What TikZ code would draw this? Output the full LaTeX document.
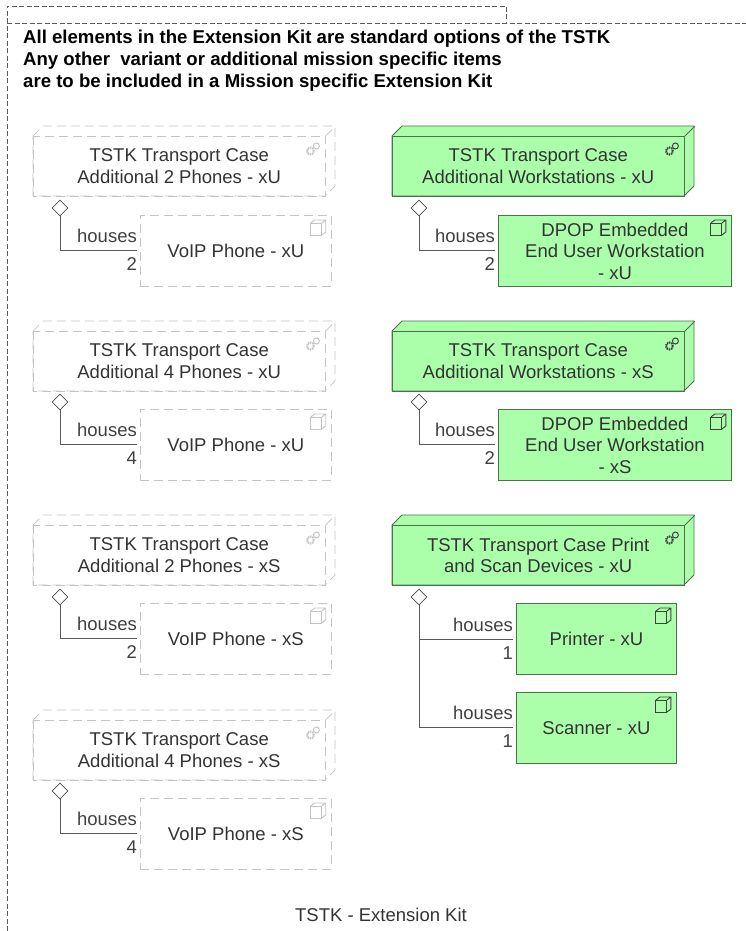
\documentclass[tikz,border=0pt]{standalone}
\usepackage{fontspec}
\setmainfont{Liberation Sans}
\usetikzlibrary{shapes.geometric,calc}
\definecolor{fillgreen}{HTML}{ABFFAB}
\definecolor{edgegreen}{HTML}{4F6F4F}
\definecolor{ghost}{HTML}{C4C4C4}
\tikzset{
  x=1pt,y=-1pt,
  framedash/.style={draw=black!65,line width=0.7pt,dash pattern=on 5pt off 2.5pt},
  ghostline/.style={draw=ghost,line width=0.7pt,dash pattern=on 9pt off 5pt},
  greenline/.style={draw=edgegreen,line width=0.9pt,fill=fillgreen},
  casebox/.style={anchor=north west,minimum width=292pt,minimum height=60pt,inner sep=0pt,align=center,font=\fontsize{18.5}{21.5}\selectfont,text=black!80},
  compbox/.style={anchor=north west,minimum height=71pt,inner sep=0pt,align=center,font=\fontsize{18.5}{21.5}\selectfont,text=black!80},
  aggdiamond/.style={diamond,draw=black!70,fill=white,line width=0.8pt,minimum width=16pt,minimum height=16pt,inner sep=0pt},
  linkline/.style={draw=black!65,line width=1pt},
  linklabel/.style={anchor=east,inner sep=0pt,font=\fontsize{18.5}{18.5}\selectfont,text=black!75},
}
% #1 name, #2 x, #3 y, #4 style, #5 icon colour, #6 text
\newcommand{\casenode}[6]{
  \path[#4] (#2,#3) -- ++(10,-10) -- ++(292,0) -- ++(0,60) -- ++(-10,10) -- ++(-292,0) -- cycle;
  \node[casebox,#4,fill=none,draw=none] (#1x) at (#2,#3) {};
  \draw[#4,fill=none] (#1x.north west) rectangle (#1x.south east);
  \draw[#4,fill=none] (#1x.north east) -- ++(10,-10);
  \node[casebox] (#1) at (#2,#3) {#6};
  \node[circle,draw=#5,line width=1pt,minimum size=6pt,inner sep=0pt] (#1g) at ($(#1.north east)+(-9,10)$) {};
  \node[circle,draw=#5,line width=2pt,dash pattern=on 1.4pt off 0.8pt,minimum size=7pt,inner sep=0pt] (#1h) at ($(#1.north east)+(-15,15)$) {};
}
% #1 name, #2 x, #3 y, #4 width, #5 style, #6 icon colour, #7 text
\newcommand{\compnode}[7]{
  \node[compbox,#5,minimum width=#4 pt] (#1) at (#2,#3) {#7};
  \draw[draw=#6,line width=0.9pt] ($(#1.north east)+(-21,8)$) rectangle ++(11,12);
  \draw[draw=#6,line width=0.9pt] ($(#1.north east)+(-21,8)$) -- ++(4,-3) -- ++(11,0) -- ++(0,12) -- ++(-4,3) ($(#1.north east)+(-10,8)$) -- ++(4,-3);
}
% #1 name of the case, #2 name of the part, #3 diamond x, #4 diamond y, #5 line y, #6 number
\newcommand{\houses}[6]{
  \node[aggdiamond] (#1d) at (#3,#4) {};
  \coordinate (#2in) at (#2.west |- 0,#5);
  \draw[linkline] (#1d.south) |- ($(#2in)+(-3,0)$);
  \node[linklabel] (#2h) at ($(#2in)+(-3,-14)$) {houses};
  \node[linklabel] (#2n) at ($(#2in)+(-3,14)$) {#6};
}
\begin{document}
\begin{tikzpicture}
\useasboundingbox (0,0) rectangle (746,931);
\fill[white] (0,0) rectangle (746,931);
\coordinate (ftl) at (7,6);
\coordinate (ftr) at (506,6);
\coordinate (fjr) at (506,23);
\coordinate (fjl) at (7,23);
\coordinate (fend) at (746,23);
\coordinate (fbot) at (7,931);
\draw[framedash] (fbot) -- (ftl) -- (ftr) -- (fjr);
\draw[framedash] (fjl) -- (fend);
\node[anchor=north west,inner sep=0pt,align=left,font=\bfseries\fontsize{18.6}{22}\selectfont,text=black] (note) at (23,30)
 {All elements in the Extension Kit are standard options of the TSTK\\
  Any other\ \ variant or additional mission specific items\\
  are to be included in a Mission specific Extension Kit};

\casenode{c1}{33}{136}{ghostline}{ghost}{TSTK Transport Case\\Additional 2 Phones - xU}
\compnode{p1}{140}{215}{191}{ghostline}{ghost}{VoIP Phone - xU}
\houses{c1}{p1}{60}{208}{250}{2}

\casenode{c2}{33}{331}{ghostline}{ghost}{TSTK Transport Case\\Additional 4 Phones - xU}
\compnode{p2}{140}{409}{191}{ghostline}{ghost}{VoIP Phone - xU}
\houses{c2}{p2}{60}{402}{444}{4}

\casenode{c3}{33}{525}{ghostline}{ghost}{TSTK Transport Case\\Additional 2 Phones - xS}
\compnode{p3}{140}{603}{191}{ghostline}{ghost}{VoIP Phone - xS}
\houses{c3}{p3}{60}{597}{638}{2}

\casenode{c4}{33}{720}{ghostline}{ghost}{TSTK Transport Case\\Additional 4 Phones - xS}
\compnode{p4}{140}{798}{191}{ghostline}{ghost}{VoIP Phone - xS}
\houses{c4}{p4}{60}{791}{833}{4}

\casenode{c5}{392}{136}{greenline}{black!75}{TSTK Transport Case\\Additional Workstations - xU}
\compnode{p5}{498}{215}{233}{greenline}{black!75}{DPOP Embedded\\End User Workstation\\- xU}
\houses{c5}{p5}{419}{208}{250}{2}

\casenode{c6}{392}{331}{greenline}{black!75}{TSTK Transport Case\\Additional Workstations - xS}
\compnode{p6}{498}{409}{233}{greenline}{black!75}{DPOP Embedded\\End User Workstation\\- xS}
\houses{c6}{p6}{419}{402}{444}{2}

\casenode{c7}{392}{525}{greenline}{black!75}{TSTK Transport Case Print\\and Scan Devices - xU}
\compnode{p7}{516}{603}{160}{greenline}{black!75}{Printer - xU}
\compnode{p8}{516}{692}{160}{greenline}{black!75}{Scanner - xU}
\houses{c7}{p7}{419}{597}{639}{1}
\coordinate (p8in) at (p8.west |- 0,727);
\draw[linkline] (c7d.south) |- ($(p8in)+(-3,0)$);
\node[linklabel] (p8h) at ($(p8in)+(-3,-14)$) {houses};
\node[linklabel] (p8n) at ($(p8in)+(-3,14)$) {1};

\node[inner sep=0pt,font=\fontsize{18.5}{18.5}\selectfont,text=black!80] (title) at (381,915) {TSTK - Extension Kit};
\end{tikzpicture}
\end{document}
